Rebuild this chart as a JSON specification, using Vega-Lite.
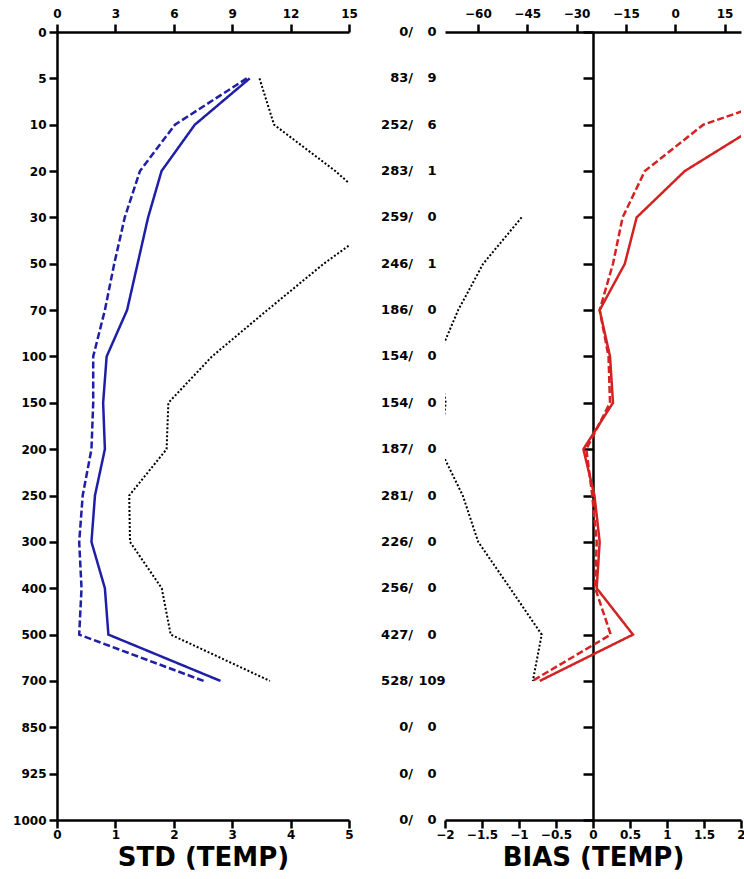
{
  "$schema": "https://vega.github.io/schema/vega-lite/v6.json",
  "background": "white",
  "padding": {"left": 12, "top": 7, "right": 0, "bottom": 0},
  "spacing": 0,
  "bounds": "flush",
  "config": {
    "view": {"stroke": null},
    "font": "DejaVu Sans",
    "axis": {
      "domainColor": "black",
      "domainWidth": 2.5,
      "tickColor": "black",
      "tickWidth": 2.5,
      "tickSize": 8,
      "labelFont": "DejaVu Sans",
      "labelFontWeight": "bold",
      "labelFontSize": 12,
      "labelColor": "black",
      "labelFlush": false,
      "labelOverlap": false,
      "labelBound": false,
      "grid": false,
      "titleFont": "DejaVu Sans",
      "titleFontWeight": "bold",
      "titleFontSize": 26,
      "titleColor": "black"
    }
  },
  "datasets": {
    "profile": [
      {"p": 0, "n_all": 0, "n_rej": 0},
      {"p": 5, "n_all": 83, "n_rej": 9, "std": 3.30, "std_b": 3.25, "pct": 10.4, "bias": 3.5, "bias_b": 3.3},
      {"p": 10, "n_all": 252, "n_rej": 6, "std": 2.36, "std_b": 2.02, "pct": 11.15, "bias": 2.25, "bias_b": 1.49},
      {"p": 20, "n_all": 283, "n_rej": 1, "std": 1.79, "std_b": 1.42, "pct": 14.3, "bias": 1.24, "bias_b": 0.70},
      {"p": 30, "n_all": 259, "n_rej": 0, "std": 1.56, "std_b": 1.16, "pct": 17.0, "bias": 0.59, "bias_b": 0.40, "pct_b": -46.7},
      {"p": 50, "n_all": 246, "n_rej": 1, "std": 1.38, "std_b": 0.98, "pct": 13.7, "bias": 0.43, "bias_b": 0.27, "pct_b": -58.4},
      {"p": 70, "n_all": 186, "n_rej": 0, "std": 1.20, "std_b": 0.82, "pct": 10.8, "bias": 0.09, "bias_b": 0.09, "pct_b": -66.0},
      {"p": 100, "n_all": 154, "n_rej": 0, "std": 0.85, "std_b": 0.62, "pct": 7.96, "bias": 0.23, "bias_b": 0.21, "pct_b": -72.0},
      {"p": 150, "n_all": 154, "n_rej": 0, "std": 0.79, "std_b": 0.62, "pct": 5.72, "bias": 0.27, "bias_b": 0.23, "pct_b": -69.8},
      {"p": 200, "n_all": 187, "n_rej": 0, "std": 0.82, "std_b": 0.59, "pct": 5.63, "bias": -0.13, "bias_b": -0.09, "pct_b": -71.5},
      {"p": 250, "n_all": 281, "n_rej": 0, "std": 0.65, "std_b": 0.44, "pct": 3.71, "bias": 0.02, "bias_b": -0.01, "pct_b": -64.6},
      {"p": 300, "n_all": 226, "n_rej": 0, "std": 0.59, "std_b": 0.38, "pct": 3.75, "bias": 0.09, "bias_b": 0.05, "pct_b": -59.9},
      {"p": 400, "n_all": 256, "n_rej": 0, "std": 0.82, "std_b": 0.42, "pct": 5.38, "bias": 0.05, "bias_b": 0.03, "pct_b": -50.2},
      {"p": 500, "n_all": 427, "n_rej": 0, "std": 0.88, "std_b": 0.38, "pct": 5.84, "bias": 0.54, "bias_b": 0.24, "pct_b": -40.6},
      {"p": 700, "n_all": 528, "n_rej": 109, "std": 2.80, "std_b": 2.51, "pct": 10.94, "bias": -0.72, "bias_b": -0.82, "pct_b": -43.3},
      {"p": 850, "n_all": 0, "n_rej": 0},
      {"p": 925, "n_all": 0, "n_rej": 0},
      {"p": 1000, "n_all": 0, "n_rej": 0}
    ]
  },
  "hconcat": [
    {
      "width": 292,
      "height": 788,
      "data": {"name": "profile"},
      "layer": [
        {
          "transform": [{"fold": ["std", "std_b"], "as": ["series", "value"]}],
          "mark": {"type": "line", "color": "#1f1fa6", "strokeWidth": 2.5, "clip": true},
          "encoding": {
            "x": {
              "field": "value", "type": "quantitative",
              "scale": {"domain": [0, 5], "nice": false, "zero": false},
              "axis": {"orient": "bottom", "values": [0, 1, 2, 3, 4, 5], "labelPadding": 1, "title": "STD (TEMP)", "titlePadding": 4}
            },
            "y": {
              "field": "p", "type": "ordinal",
              "scale": {"type": "point", "padding": 0, "domain": [0, 5, 10, 20, 30, 50, 70, 100, 150, 200, 250, 300, 400, 500, 700, 850, 925, 1000]},
              "axis": {"title": null, "orient": "left", "labelPadding": 3}
            },
            "strokeDash": {
              "field": "series", "type": "nominal",
              "scale": {"domain": ["std", "std_b"], "range": [[1, 0], [7, 3]]},
              "legend": null
            },
            "order": {"field": "p", "type": "quantitative"}
          }
        },
        {
          "mark": {"type": "line", "color": "black", "strokeWidth": 2, "strokeDash": [2, 2], "clip": true},
          "encoding": {
            "x": {
              "field": "pct", "type": "quantitative",
              "scale": {"domain": [0, 15], "nice": false, "zero": false},
              "axis": {"orient": "top", "values": [0, 3, 6, 9, 12, 15], "labelPadding": 4, "title": null}
            },
            "y": {
              "field": "p", "type": "ordinal",
              "scale": {"type": "point", "padding": 0, "domain": [0, 5, 10, 20, 30, 50, 70, 100, 150, 200, 250, 300, 400, 500, 700, 850, 925, 1000]},
              "axis": {"title": null, "orient": "left", "labelPadding": 3}
            },
            "order": {"field": "p", "type": "quantitative"}
          }
        }
      ],
      "resolve": {"scale": {"x": "independent"}}
    },
    {
      "width": 96,
      "height": 788,
      "data": {"name": "profile"},
      "transform": [
        {"calculate": "datum.n_all + '/'", "as": "n_all_lbl"},
        {"calculate": "'' + datum.n_rej", "as": "n_rej_lbl"}
      ],
      "encoding": {
        "y": {
          "field": "p", "type": "ordinal",
          "scale": {"type": "point", "padding": 0, "domain": [0, 5, 10, 20, 30, 50, 70, 100, 150, 200, 250, 300, 400, 500, 700, 850, 925, 1000]},
          "axis": null
        }
      },
      "layer": [
        {
          "mark": {"type": "text", "align": "right", "baseline": "middle", "dx": 16, "font": "DejaVu Sans", "fontWeight": "bold", "fontSize": 13, "color": "black"},
          "encoding": {"text": {"field": "n_all_lbl"}}
        },
        {
          "mark": {"type": "text", "align": "center", "baseline": "middle", "dx": 35, "font": "DejaVu Sans", "fontWeight": "bold", "fontSize": 13, "color": "black"},
          "encoding": {"text": {"field": "n_rej_lbl"}}
        }
      ]
    },
    {
      "width": 296,
      "height": 788,
      "data": {"name": "profile"},
      "layer": [
        {
          "transform": [{"fold": ["bias", "bias_b"], "as": ["series", "value"]}],
          "mark": {"type": "line", "color": "#d42222", "strokeWidth": 2.5, "clip": true},
          "encoding": {
            "x": {
              "field": "value", "type": "quantitative",
              "scale": {"domain": [-2, 2], "nice": false, "zero": false},
              "axis": {"orient": "bottom", "values": [-2, -1.5, -1, -0.5, 0, 0.5, 1, 1.5, 2], "format": ".1~f", "labelPadding": 1, "title": "BIAS (TEMP)", "titlePadding": 4}
            },
            "y": {
              "field": "p", "type": "ordinal",
              "scale": {"type": "point", "padding": 0, "domain": [0, 5, 10, 20, 30, 50, 70, 100, 150, 200, 250, 300, 400, 500, 700, 850, 925, 1000]},
              "axis": {"title": null, "orient": "left", "offset": -148, "labels": false, "tickSize": 10}
            },
            "strokeDash": {
              "field": "series", "type": "nominal",
              "scale": {"domain": ["bias", "bias_b"], "range": [[1, 0], [7, 3]]},
              "legend": null
            },
            "order": {"field": "p", "type": "quantitative"}
          }
        },
        {
          "mark": {"type": "line", "color": "black", "strokeWidth": 2, "strokeDash": [2, 2], "clip": true},
          "encoding": {
            "x": {
              "field": "pct_b", "type": "quantitative",
              "scale": {"domain": [-70, 20], "nice": false, "zero": false},
              "axis": {"orient": "top", "values": [-60, -45, -30, -15, 0, 15], "labelPadding": 4, "title": null}
            },
            "y": {
              "field": "p", "type": "ordinal",
              "scale": {"type": "point", "padding": 0, "domain": [0, 5, 10, 20, 30, 50, 70, 100, 150, 200, 250, 300, 400, 500, 700, 850, 925, 1000]},
              "axis": {"title": null, "orient": "left", "offset": -148, "labels": false, "tickSize": 10}
            },
            "order": {"field": "p", "type": "quantitative"}
          }
        }
      ],
      "resolve": {"scale": {"x": "independent"}}
    }
  ]
}
